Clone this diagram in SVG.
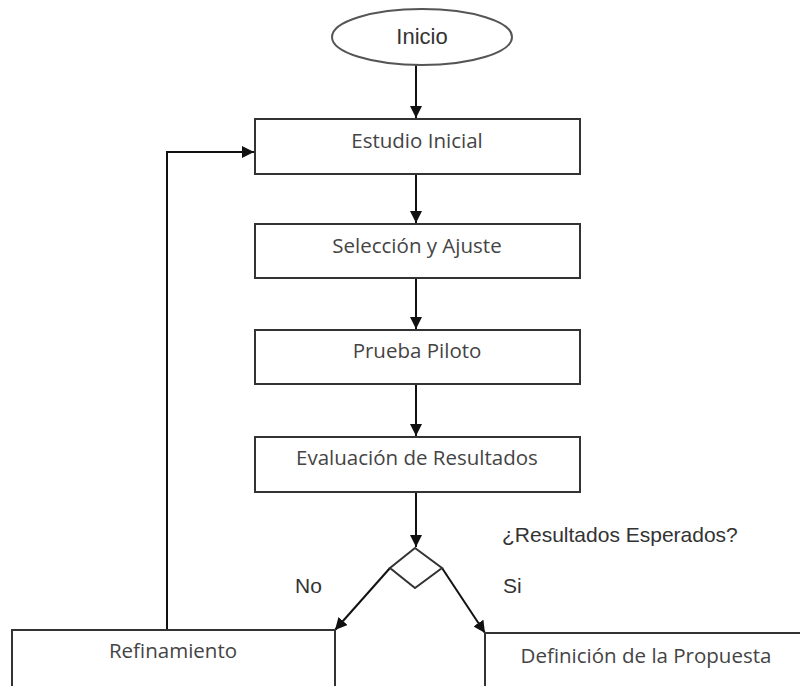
<svg xmlns="http://www.w3.org/2000/svg" width="800" height="686" viewBox="0 0 800 686">
<style>
.box{fill:#fff;stroke:#333;stroke-width:2}
.bt{font-family:"Open Sans","Liberation Sans",sans-serif;font-size:20.5px;fill:#444;text-anchor:middle}
.at{font-family:"Liberation Sans",Arial,sans-serif;font-size:21px;fill:#333}
.ln{fill:none;stroke:#111;stroke-width:2}
</style>
<defs>
<marker id="ah" viewBox="0 0 10 10" refX="10" refY="5" markerWidth="6" markerHeight="6" markerUnits="strokeWidth" orient="auto">
<path d="M0,0 L10,5 L0,10 z" fill="#111"/>
</marker>
</defs>
<rect width="800" height="686" fill="#fff"/>
<g id="connectors">
<line class="ln" x1="416" y1="65" x2="416" y2="118" marker-end="url(#ah)"/>
<line class="ln" x1="416" y1="174" x2="416" y2="223" marker-end="url(#ah)"/>
<line class="ln" x1="416" y1="278" x2="416" y2="329" marker-end="url(#ah)"/>
<line class="ln" x1="416" y1="384" x2="416" y2="436" marker-end="url(#ah)"/>
<line class="ln" x1="416" y1="492" x2="416" y2="547" marker-end="url(#ah)"/>
<line class="ln" x1="390" y1="568" x2="335" y2="630" marker-end="url(#ah)"/>
<line class="ln" x1="442" y1="568" x2="485" y2="633" marker-end="url(#ah)"/>
<polyline class="ln" points="167,630 167,152 254,152" marker-end="url(#ah)"/>
</g>
<g id="inicio">
<ellipse cx="422" cy="37" rx="90" ry="28" fill="#fff" stroke="#555" stroke-width="2"/>
<text x="422" y="44" class="at" text-anchor="middle" fill="#4a3441" style="font-size:22px">Inicio</text>
</g>
<g id="estudio">
<rect class="box" x="255" y="119" width="325" height="55"/>
<text class="bt" x="417" y="148">Estudio Inicial</text>
</g>
<g id="seleccion">
<rect class="box" x="255" y="224" width="325" height="54"/>
<text class="bt" x="417" y="253">Selección y Ajuste</text>
</g>
<g id="prueba">
<rect class="box" x="255" y="330" width="325" height="54"/>
<text class="bt" x="417" y="358">Prueba Piloto</text>
</g>
<g id="evaluacion">
<rect class="box" x="255" y="437" width="325" height="55"/>
<text class="bt" x="417" y="465">Evaluación de Resultados</text>
</g>
<g id="decision">
<polygon points="415,548 442,568 415,588 390,568" fill="#fff" stroke="#333" stroke-width="2"/>
<text class="at" x="502" y="542">¿Resultados Esperados?</text>
<text class="at" x="295" y="593">No</text>
<text class="at" x="503" y="593">Si</text>
</g>
<g id="refinamiento">
<rect class="box" x="12" y="630" width="323" height="70"/>
<text class="bt" x="173" y="658">Refinamiento</text>
</g>
<g id="definicion">
<rect class="box" x="485" y="633" width="330" height="70"/>
<text class="bt" x="646" y="663">Definición de la Propuesta</text>
</g>
</svg>
